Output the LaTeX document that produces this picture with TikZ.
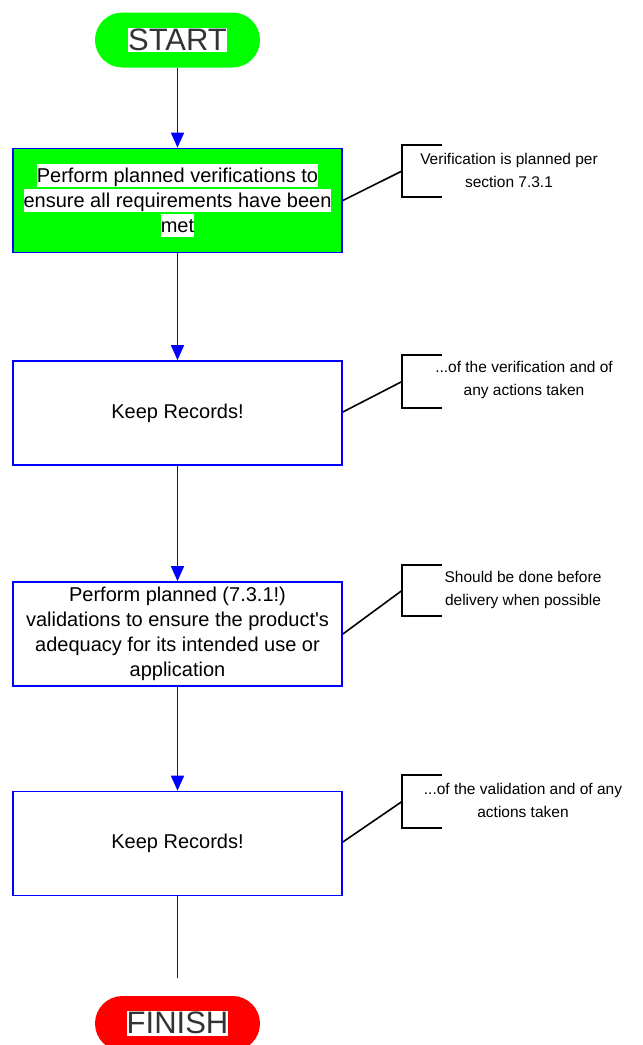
\documentclass[tikz,border=0pt]{standalone}
\usepackage{fontspec}
\setmainfont{Liberation Sans}
\usetikzlibrary{arrows.meta}
% white highlight behind a line of text
\newcommand{\wbg}[1]{{\setlength{\fboxsep}{0pt}\colorbox{white}{\rule[-0.22em]{0pt}{1.12em}#1}}}
\newcommand{\wcap}[1]{{\setlength{\fboxsep}{0pt}\colorbox{white}{\rule[-0.07em]{0pt}{0.8em}#1}}}
\definecolor{flowblue}{RGB}{0,0,255}
\definecolor{flowgreen}{RGB}{0,255,0}
\definecolor{flowred}{RGB}{255,0,0}
\tikzset{
  pill/.style={rounded corners=27.5pt, minimum width=165pt, minimum height=55pt,
    inner sep=0pt, text=black!80, font=\fontsize{31}{31}\selectfont},
  stepbox/.style={draw=flowblue, line width=1.7pt, minimum width=329pt,
    minimum height=104pt, inner sep=0pt, align=center,
    font=\fontsize{20}{25}\selectfont},
  flow/.style={draw=flowblue, line width=1.7pt},
  flowarrow/.style={flow, -{Triangle[length=15pt,width=13pt]}},
  bracket/.style={draw=black, line width=2pt},
  link/.style={draw=black, line width=1.6pt},
  note/.style={align=center, inner sep=0pt, font=\fontsize{15.5}{23}\selectfont}
}
\begin{document}
\begin{tikzpicture}[x=1pt,y=-1pt]
\clip (0,0) rectangle (643,1045);
\fill[white] (0,0) rectangle (643,1045);

% terminals
\node[pill, fill=flowgreen] (start) at (177.5,40) {\wcap{START}};
\node[pill, fill=flowred] (finish) at (177.5,1023.5) {\wcap{FINISH}};

% process steps
\node[stepbox, fill=flowgreen] (verify) at (177.5,200.5)
  {\wbg{Perform planned verifications to}\\\wbg{ensure all requirements have been}\\\wbg{met}};
\node[stepbox] (rec1) at (177.5,413) {Keep Records!};
\node[stepbox] (valid) at (177.5,634)
  {Perform planned (7.3.1!)\\validations to ensure the product\textquotesingle s\\adequacy for its intended use or\\application};
\node[stepbox] (rec2) at (177.5,843.5) {Keep Records!};
\coordinate (tail) at (177.5,978);

% flow connectors
\draw[flowarrow] (start.south) -- (verify.north);
\draw[flowarrow] (verify.south) -- (rec1.north);
\draw[flowarrow] (rec1.south) -- (valid.north);
\draw[flowarrow] (valid.south) -- (rec2.north);
\draw[flow] (rec2.south) -- (tail);

% annotation brackets
\coordinate (b1) at (402,171);
\coordinate (b2) at (402,381.5);
\coordinate (b3) at (402,590.5);
\coordinate (b4) at (402,801.5);
\draw[bracket] (442,145) -- (402,145) -- (402,197) -- (442,197);
\draw[bracket] (442,355) -- (402,355) -- (402,408) -- (442,408);
\draw[bracket] (442,565) -- (402,565) -- (402,616) -- (442,616);
\draw[bracket] (442,775) -- (402,775) -- (402,828) -- (442,828);

% annotation texts
\node[note] (n1) at (509,170) {Verification is planned per\\section 7.3.1};
\node[note] (n2) at (524,380) {...of the verification and of\\any actions taken};
\node[note] (n3) at (523,590) {Should be done before\\delivery when possible};
\node[note] (n4) at (523,800.5) {...of the validation and of any\\actions taken};

% annotation links
\draw[link] (verify.east) -- (b1);
\draw[link] ([yshift=1pt]rec1.east) -- (b2);
\draw[link] (valid.east) -- (b3);
\draw[link] ([yshift=1.5pt]rec2.east) -- (b4);
\end{tikzpicture}
\end{document}
